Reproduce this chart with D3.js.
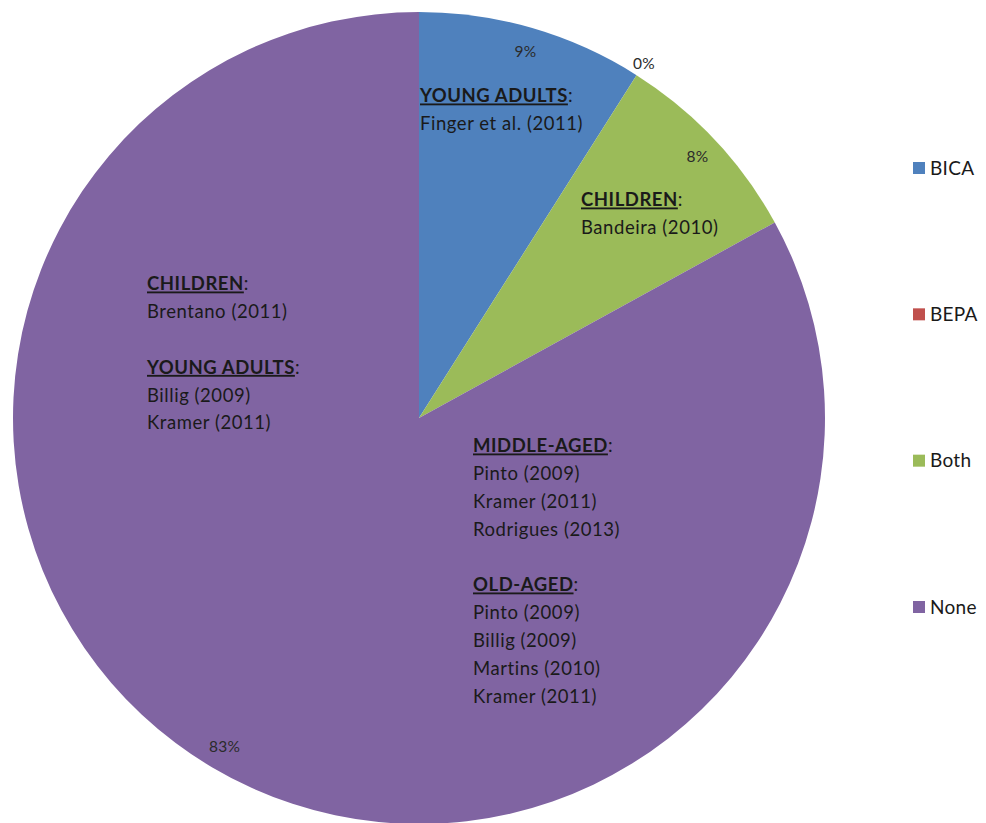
<!DOCTYPE html>
<html>
<head>
<meta charset="utf-8">
<script src="https://cdn.jsdelivr.net/npm/d3@7"></script>
<style>
  html, body { margin: 0; padding: 0; background: #ffffff; }
  svg { display: block; font-family: Lato, "Liberation Sans", sans-serif; }
</style>
</head>
<body>
<svg id="chart" width="986" height="823"></svg>
<script>
// Share of studies by assessment type
const categories = ["BICA", "BEPA", "Both", "None"];
const shares = [9, 0, 8, 83];
const percentLabels = ["9%", "0%", "8%", "83%"];
const colors = ["#4f81bd", "#c0504d", "#9bbb59", "#8064a2"];

// Study notes written inside the slices (heading, then citations)
const notesBICA = [
  { head: "YOUNG ADULTS", items: ["Finger et al. (2011)"] }
];
const notesBoth = [
  { head: "CHILDREN", items: ["Bandeira (2010)"] }
];
const notesNoneLeft = [
  { head: "CHILDREN", items: ["Brentano (2011)"] },
  { head: "YOUNG ADULTS", items: ["Billig (2009)", "Kramer (2011)"] }
];
const notesNoneRight = [
  { head: "MIDDLE-AGED", items: ["Pinto (2009)", "Kramer (2011)", "Rodrigues (2013)"] },
  { head: "OLD-AGED", items: ["Pinto (2009)", "Billig (2009)", "Martins (2010)", "Kramer (2011)"] }
];

const svg = d3.select("#chart");
const cx = 419, cy = 418, radius = 406;

const pie = d3.pie().sort(null).value(d => d.value);
const arcs = pie(categories.map((c, i) => ({ name: c, value: shares[i], i })));

const arc = d3.arc().innerRadius(0).outerRadius(radius);
const labelArc = d3.arc().innerRadius(382).outerRadius(382);
const outerLabelArc = d3.arc().innerRadius(420).outerRadius(420);

const g = svg.append("g").attr("transform", `translate(${cx},${cy})`);

g.selectAll("path.slice")
  .data(arcs)
  .join("path")
  .attr("class", "slice")
  .attr("d", arc)
  .attr("fill", d => colors[d.data.i]);

// Percentage labels: inside near the rim, outside for an empty slice
g.selectAll("text.pct")
  .data(arcs)
  .join("text")
  .attr("class", "pct")
  .attr("transform", d => {
    const p = (d.endAngle - d.startAngle) > 0 ? labelArc.centroid(d) : outerLabelArc.centroid(d);
    return `translate(${p[0]},${p[1]})`;
  })
  .attr("text-anchor", "middle")
  .attr("dy", "0.35em")
  .attr("font-size", 15.5)
  .attr("letter-spacing", 0.3)
  .attr("fill", "#2b2b2b")
  .text(d => percentLabels[d.data.i]);

// Note blocks
const lineH = 27.8;
function drawNotes(groups, x, yFirst) {
  const t = svg.append("g")
    .attr("font-size", 18.5)
    .attr("letter-spacing", 0.55)
    .attr("fill", "#1a1a1a");
  let y = yFirst;
  groups.forEach((grp, gi) => {
    if (gi > 0) y += lineH; // blank line between groups
    const head = t.append("text").attr("x", x).attr("y", y).attr("dy", "0.35em");
    head.append("tspan")
      .attr("font-weight", "bold")
      .style("text-decoration", "underline")
      .style("text-decoration-thickness", "2px")
      .text(grp.head);
    head.append("tspan").text(":");
    y += lineH;
    grp.items.forEach(s => {
      t.append("text").attr("x", x).attr("y", y).attr("dy", "0.35em").text(s);
      y += lineH;
    });
  });
}
drawNotes(notesBICA, 420, 96);
drawNotes(notesBoth, 581, 200);
drawNotes(notesNoneLeft, 147, 284);
drawNotes(notesNoneRight, 473, 446);

// Legend
const legendY = d3.scalePoint().domain(categories).range([168, 607]);
const legend = svg.append("g").selectAll("g")
  .data(categories)
  .join("g")
  .attr("transform", d => `translate(913,${legendY(d)})`);
legend.append("rect")
  .attr("x", 0).attr("y", -6).attr("width", 12).attr("height", 12)
  .attr("fill", (d, i) => colors[i]);
legend.append("text")
  .attr("x", 17).attr("y", 0).attr("dy", "0.35em")
  .attr("font-size", 19)
  .attr("letter-spacing", 0.3)
  .attr("fill", "#1a1a1a")
  .text(d => d);
</script>
</body>
</html>
